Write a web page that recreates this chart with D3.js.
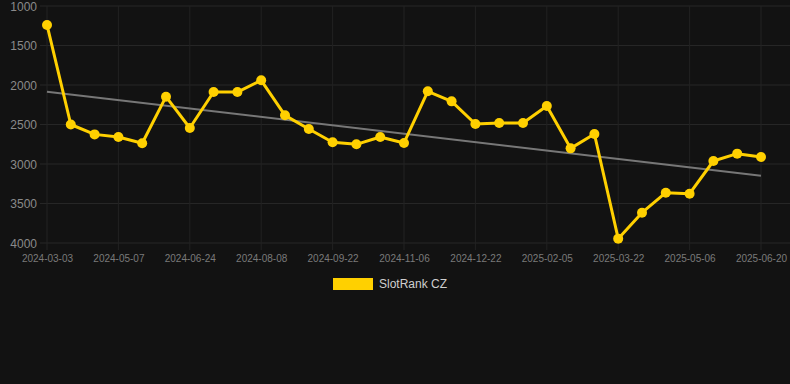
<!DOCTYPE html>
<html><head><meta charset="utf-8">
<script src="https://cdn.jsdelivr.net/npm/d3@7"></script>
<style>
html,body{margin:0;padding:0;background:#121212;}
svg{display:block;font-family:"Liberation Sans",Arial,sans-serif;}
</style></head>
<body>
<svg id="chart" width="790" height="384"></svg>
<script>
const dates = ["2024-03-03","2024-03-25","2024-04-15","2024-05-07","2024-05-23","2024-06-08","2024-06-24","2024-07-09","2024-07-24","2024-08-08","2024-08-23","2024-09-07","2024-09-22","2024-10-07","2024-10-22","2024-11-06","2024-11-21","2024-12-06","2024-12-22","2025-01-06","2025-01-21","2025-02-05","2025-02-20","2025-03-07","2025-03-22","2025-04-06","2025-04-21","2025-05-06","2025-05-21","2025-06-05","2025-06-20"];
const ranks = [1240,2500,2625,2658,2738,2148,2544,2089,2089,1941,2384,2557,2725,2751,2658,2734,2080,2207,2494,2481,2481,2266,2802,2620,3945,3616,3363,3376,2962,2869,2911];
const trendEnds = [2085,3150];
const yTicks = [1000,1500,2000,2500,3000,3500,4000];
const seriesName = "SlotRank CZ";

const svg = d3.select("#chart");
const x = d3.scalePoint().domain(dates).range([47,761]);
const y = d3.scaleLinear().domain([1000,4000]).range([6,243]);

// horizontal grid
svg.append("g").selectAll("line").data(yTicks).join("line")
  .attr("x1",40).attr("x2",790).attr("y1",d=>y(d)).attr("y2",d=>y(d))
  .attr("stroke","#262626").attr("stroke-width",1);
// vertical grid
const xTickVals = dates.filter((d,i)=>i%3===0);
svg.append("g").selectAll("line").data(xTickVals).join("line")
  .attr("x1",d=>x(d)).attr("x2",d=>x(d)).attr("y1",6).attr("y2",250)
  .attr("stroke","#222").attr("stroke-width",1);

// y axis labels
const yAxis = d3.axisLeft(y).tickValues(yTicks).tickFormat(d3.format("d")).tickSize(0).tickPadding(0);
const gy = svg.append("g").attr("transform","translate(37,0)").call(yAxis);
gy.select(".domain").remove();
gy.selectAll("text").attr("fill","#8a8a8a").style("font-size","12px").attr("dy","0.35em");

// x axis labels
const xAxis = d3.axisBottom(x).tickValues(xTickVals).tickSize(0).tickPadding(0);
const gx = svg.append("g").attr("transform","translate(0,255)").call(xAxis);
gx.select(".domain").remove();
gx.selectAll("text").attr("fill","#7a7a7a").style("font-size","10px").attr("dy","0.7em");

// trend line
svg.append("line")
  .attr("x1",x(dates[0])).attr("x2",x(dates[dates.length-1]))
  .attr("y1",y(trendEnds[0])).attr("y2",y(trendEnds[1]))
  .attr("stroke","#777").attr("stroke-width",2);

// series line
const line = d3.line().x((d,i)=>x(dates[i])).y(d=>y(d));
svg.append("path").datum(ranks).attr("d",line)
  .attr("fill","none").attr("stroke","#FFD000").attr("stroke-width",3)
  .attr("stroke-linejoin","round");
svg.append("g").selectAll("circle").data(ranks).join("circle")
  .attr("cx",(d,i)=>x(dates[i])).attr("cy",d=>y(d)).attr("r",5)
  .attr("fill","#FFD000");

// legend
svg.append("rect").attr("x",333).attr("y",278).attr("width",40).attr("height",12).attr("fill","#FFD000");
svg.append("text").attr("x",379).attr("y",284).attr("dy","0.35em")
  .attr("fill","#cfcfcf").style("font-size","12px").text(seriesName);
</script>
</body></html>
